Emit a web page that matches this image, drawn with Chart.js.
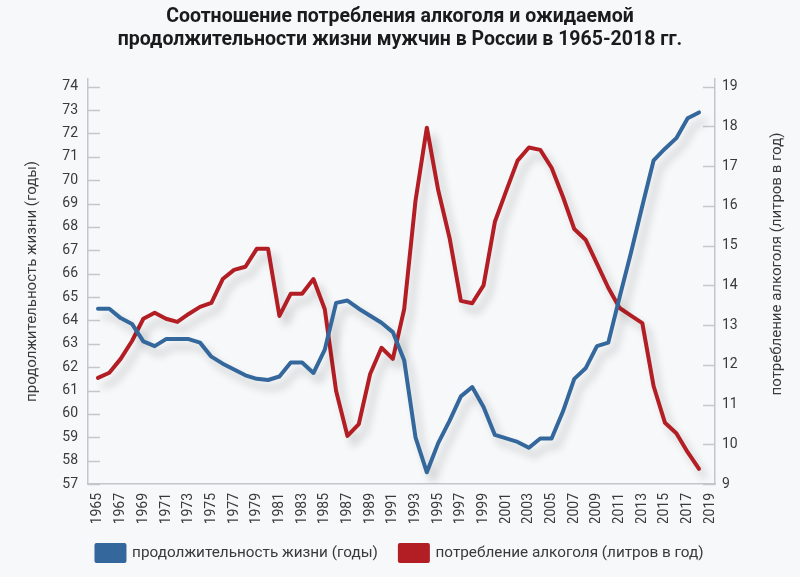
<!DOCTYPE html>
<html>
<head>
<meta charset="utf-8">
<script src="https://cdn.jsdelivr.net/npm/chart.js@4.4.0/dist/chart.umd.min.js"></script>
<style>
  html, body { margin: 0; padding: 0; background: #f7f8fa; }
  #contenedor { width: 800px; height: 577px; }
</style>
</head>
<body>
<div id="contenedor"><canvas id="grafica" width="800" height="577"></canvas></div>
<script>
// datos de la grafica
var anios = [1965,1966,1967,1968,1969,1970,1971,1972,1973,1974,1975,1976,1977,1978,1979,1980,1981,1982,1983,1984,
             1985,1986,1987,1988,1989,1990,1991,1992,1993,1994,1995,1996,1997,1998,1999,2000,2001,2002,2003,2004,
             2005,2006,2007,2008,2009,2010,2011,2012,2013,2014,2015,2016,2017,2018];

// продолжительность жизни (годы)
var vida = [64.5,64.5,64.1,63.85,63.1,62.9,63.2,63.2,63.2,63.05,62.45,62.15,61.9,61.65,61.5,61.45,61.6,62.2,62.2,61.75,
            62.75,64.75,64.85,64.5,64.2,63.9,63.5,62.3,59.0,57.5,58.75,59.7,60.75,61.15,60.3,59.1,58.95,58.8,58.55,58.95,
            58.95,60.1,61.5,61.95,62.9,63.05,65.0,66.9,68.9,70.85,71.35,71.8,72.65,72.9];

// потребление алкоголя (литров в год)
var alcohol = [11.67,11.8,12.15,12.6,13.16,13.31,13.16,13.08,13.28,13.46,13.56,14.16,14.39,14.47,14.92,14.92,13.23,13.79,13.79,14.16,
               13.4,11.34,10.21,10.51,11.77,12.43,12.15,13.4,16.13,17.97,16.4,15.2,13.61,13.55,14.0,15.6,16.38,17.14,17.47,17.41,
               16.96,16.23,15.42,15.15,14.55,13.94,13.43,13.24,13.05,11.46,10.54,10.28,9.8,9.38];

var ticksAnios = [1965,1967,1969,1971,1973,1975,1977,1979,1981,1983,1985,1987,1989,1991,1993,1995,1997,1999,2001,2003,
                  2005,2007,2009,2011,2013,2015,2017,2019];
var ticksVida = [57,58,59,60,61,62,63,64,65,66,67,68,69,70,71,72,73,74];
var ticksAlcohol = [9,10,11,12,13,14,15,16,17,18,19];

var titulo = ['Соотношение потребления алкоголя и ожидаемой', 'продолжительности жизни мужчин в России в 1965-2018 гг.'];
var nombreVida = 'продолжительность жизни (годы)';
var nombreAlcohol = 'потребление алкоголя (литров в год)';

var azul = '#34689c';
var rojo = '#b21e24';
var gris = '#c4c6c9';
var texto = '#3a3a3a';

var puntosVida = [];
var puntosAlcohol = [];
for (var i in anios) {
  puntosVida.push({x: anios[i], y: vida[i]});
  puntosAlcohol.push({x: anios[i], y: alcohol[i]});
}

// fondo, sombra de las lineas y marcas hacia adentro
var fondo = {
  id: 'fondo',
  beforeDraw: function(chart) {
    var ctx = chart.ctx;
    ctx.save();
    ctx.fillStyle = '#f7f8fa';
    ctx.fillRect(0, 0, chart.width, chart.height);
    ctx.restore();
  }
};

var sombra = {
  id: 'sombra',
  beforeDatasetDraw: function(chart) {
    var ctx = chart.ctx;
    ctx.save();
    ctx.shadowColor = 'rgba(0,0,0,0.2)';
    ctx.shadowBlur = 8;
    ctx.shadowOffsetX = 6;
    ctx.shadowOffsetY = 8;
  },
  afterDatasetDraw: function(chart) {
    chart.ctx.restore();
  }
};

var marcas = {
  id: 'marcas',
  beforeDatasetsDraw: function(chart) {
    var ctx = chart.ctx;
    var area = chart.chartArea;
    var yv = chart.scales.yVida;
    var ya = chart.scales.yAlcohol;
    ctx.save();
    ctx.strokeStyle = gris;
    ctx.lineWidth = 1.5;
    ctx.beginPath();
    for (var i in ticksVida) {
      var py = Math.round(yv.getPixelForValue(ticksVida[i])) + 0.5;
      ctx.moveTo(area.left, py);
      ctx.lineTo(area.left + 12, py);
    }
    for (var j in ticksAlcohol) {
      var pa = Math.round(ya.getPixelForValue(ticksAlcohol[j])) + 0.5;
      ctx.moveTo(area.right, pa);
      ctx.lineTo(area.right - 12, pa);
    }
    ctx.stroke();
    ctx.restore();
  },
  afterDraw: function(chart) {
    // titulo del eje derecho, leido de abajo hacia arriba
    var ctx = chart.ctx;
    ctx.save();
    ctx.translate(777, 264);
    ctx.rotate(-Math.PI / 2);
    ctx.font = '15px Roboto';
    ctx.fillStyle = texto;
    ctx.textAlign = 'center';
    ctx.textBaseline = 'middle';
    ctx.fillText(nombreAlcohol, 0, 0);
    ctx.restore();
  }
};

var grafica = document.getElementById('grafica');
var chart = new Chart(grafica, {
  type: 'line',
  data: {
    datasets: [{
      label: nombreVida,
      data: puntosVida,
      yAxisID: 'yVida',
      borderColor: azul,
      backgroundColor: azul,
      borderWidth: 4,
      tension: 0,
      pointRadius: 0,
      borderJoinStyle: 'round',
      borderCapStyle: 'round',
      fill: false
    }, {
      label: nombreAlcohol,
      data: puntosAlcohol,
      yAxisID: 'yAlcohol',
      borderColor: rojo,
      backgroundColor: rojo,
      borderWidth: 4,
      tension: 0,
      pointRadius: 0,
      borderJoinStyle: 'round',
      borderCapStyle: 'round',
      fill: false
    }]
  },
  options: {
    responsive: false,
    animation: false,
    devicePixelRatio: 1,
    layout: { padding: { top: 0, right: 0, bottom: 6, left: 0 } },
    plugins: {
      title: {
        display: true,
        text: titulo,
        color: '#1b1b1b',
        font: { family: 'Roboto', size: 19.5, weight: 'bold', lineHeight: 1.2 },
        padding: { top: 5, bottom: 27 }
      },
      legend: {
        position: 'bottom',
        labels: {
          color: texto,
          font: { family: 'Roboto', size: 15.3 },
          boxWidth: 28,
          boxHeight: 16,
          padding: 22
        }
      },
      tooltip: { enabled: false }
    },
    scales: {
      x: {
        type: 'linear',
        min: 1964.12,
        max: 2019.41,
        afterBuildTicks: function(scale) {
          scale.ticks = ticksAnios.map(function(v) { return {value: v}; });
        },
        afterFit: function(scale) { scale.height = 39; },
        grid: { display: false, drawTicks: false },
        border: { display: true, color: gris, width: 1.5 },
        ticks: {
          color: texto,
          font: { family: 'Roboto', size: 14 },
          maxRotation: 90,
          minRotation: 90,
          padding: 9,
          autoSkip: false,
          callback: function(v) { return String(v); }
        }
      },
      yVida: {
        type: 'linear',
        position: 'left',
        min: 57,
        max: 74.34,
        afterBuildTicks: function(scale) {
          scale.ticks = ticksVida.map(function(v) { return {value: v}; });
        },
        afterFit: function(scale) { scale.width = 88; },
        grid: { display: false, drawTicks: false },
        border: { display: true, color: gris, width: 1.5 },
        title: {
          display: true,
          text: nombreVida,
          color: texto,
          font: { family: 'Roboto', size: 15 },
          padding: { top: 23, bottom: 0 }
        },
        ticks: {
          color: texto,
          font: { family: 'Roboto', size: 14 },
          padding: 10
        }
      },
      yAlcohol: {
        type: 'linear',
        position: 'right',
        min: 9,
        max: 19.2,
        afterBuildTicks: function(scale) {
          scale.ticks = ticksAlcohol.map(function(v) { return {value: v}; });
        },
        afterFit: function(scale) { scale.width = 85; },
        grid: { display: false, drawTicks: false },
        border: { display: true, color: gris, width: 1.5 },
        ticks: {
          color: texto,
          font: { family: 'Roboto', size: 14 },
          padding: 7
        }
      }
    }
  },
  plugins: [fondo, sombra, marcas]
});
</script>
</body>
</html>
